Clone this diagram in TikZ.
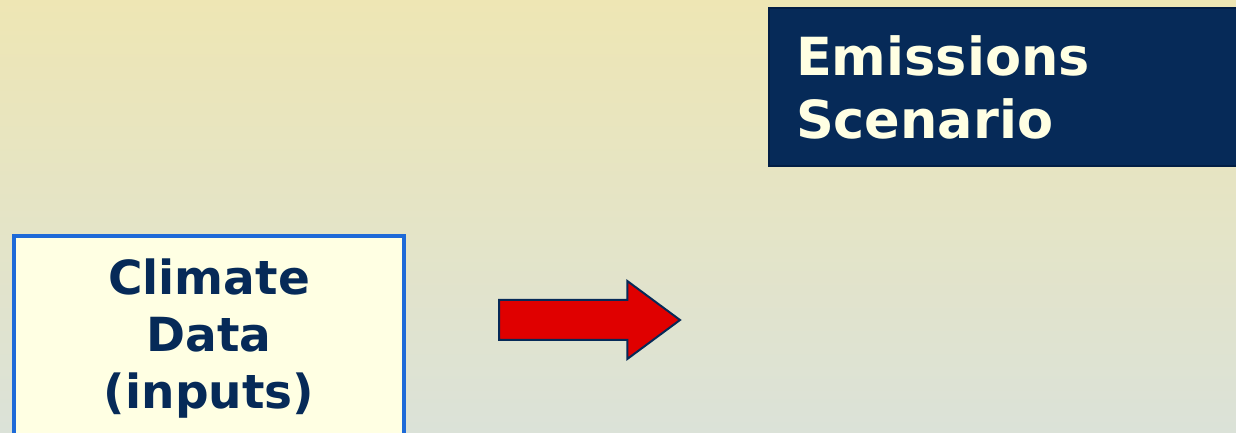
\documentclass[tikz,border=0pt]{standalone}
\usepackage{xcolor}
\usepackage{fontspec}
\usepackage{tikz}
\usetikzlibrary{shapes.arrows}
\newfontfamily\boxfont{DejaVu Sans}

\definecolor{bgtop}{HTML}{EEE6B4}
\definecolor{bgbot}{HTML}{DBE2D8}
\definecolor{navy}{HTML}{062A58}
\definecolor{navyline}{HTML}{021E45}
\definecolor{cream}{HTML}{FFFFE3}
\definecolor{boxblue}{HTML}{1E6AD8}
\definecolor{arrowred}{HTML}{E00000}

\begin{document}
\begin{tikzpicture}[x=1pt, y=1pt,
    scenbox/.style={draw=navyline, line width=2pt, fill=navy, text=cream, rectangle, align=left, inner xsep=27pt, text width=470pt, font=\boxfont\bfseries\fontsize{52.5}{63}\selectfont},
    databox/.style={draw=boxblue, line width=4.5pt, fill=cream, text=navy, rectangle, align=center, minimum width=390pt, minimum height=206pt, font=\boxfont\bfseries\fontsize{47}{57}\selectfont},
    flowarrow/.style={single arrow, draw=navy, line width=2pt, fill=arrowred, inner xsep=0pt, inner ysep=19pt, single arrow head extend=19pt, single arrow tip angle=73, minimum height=181pt}]
    % Background
    \useasboundingbox (0,0) rectangle (1236,433);
    \clip (0,0) rectangle (1236,433);
    \shade[top color=bgtop, bottom color=bgbot] (0,0) rectangle (1236,433);

    % Emissions scenario
    \node[scenbox, anchor=north west, minimum height=158pt] (scen) at (768,426) {Emissions\\Scenario};

    % Climate data
    \node[databox] (data) at (209,94) {Climate\\Data\\(inputs)};

    % Arrow
    \node[flowarrow, anchor=tail] (flow) at (498,113) {};
\end{tikzpicture}
\end{document}
